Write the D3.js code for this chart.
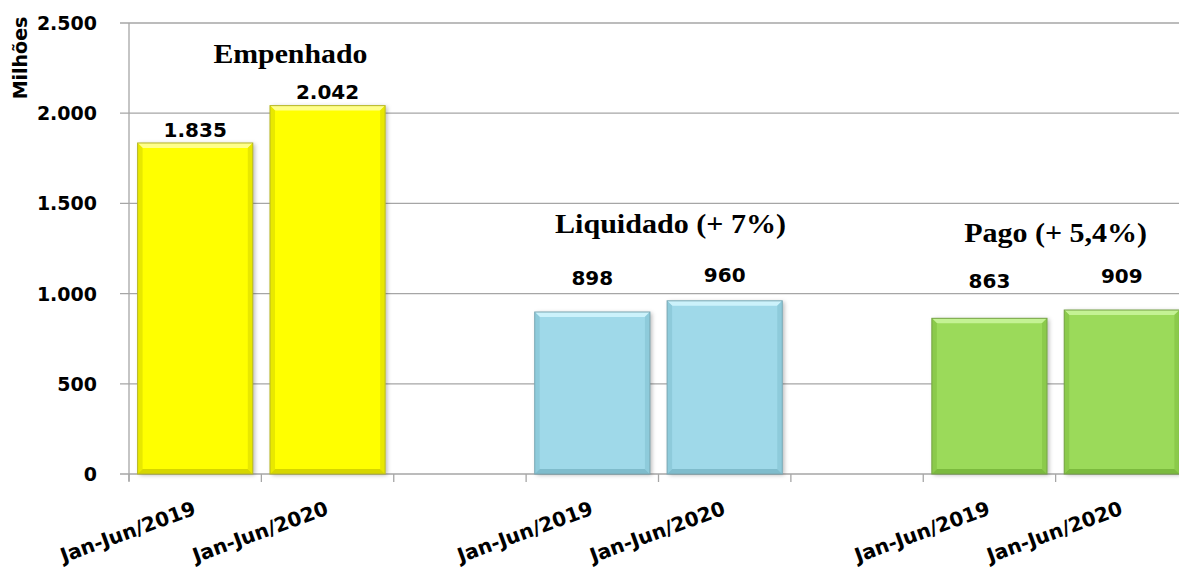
<!DOCTYPE html>
<html>
<head>
<meta charset="utf-8">
<script src="https://cdn.jsdelivr.net/npm/d3@7"></script>
<style>
  html, body { margin: 0; padding: 0; background: #fff; overflow: hidden; }
  svg { display: block; }
</style>
</head>
<body>
<svg id="chart" width="1179" height="568"></svg>
<script>
// ---------- data ----------
const slots = ["E2019", "E2020", "gap1", "L2019", "L2020", "gap2", "P2019", "P2020"];
const slotLabels = ["Jan-Jun/2019", "Jan-Jun/2020", "", "Jan-Jun/2019", "Jan-Jun/2020", "", "Jan-Jun/2019", "Jan-Jun/2020"];
const groupTitles = ["Empenhado", "Liquidado (+ 7%)", "Pago (+ 5,4%)"];
const empenhado = [1835, 2042];
const liquidado = [898, 960];
const pago = [863, 909];
const yTicks = [0, 500, 1000, 1500, 2000, 2500];
const yAxisTitle = "Milhões";

// ---------- setup ----------
const svg = d3.select("#chart");
const mLeft = 129, mRight = 1188, mTop = 23, mBottom = 474;

const x = d3.scaleBand().domain(slots).range([mLeft, mRight]).paddingInner(0.13).paddingOuter(0.065);
const y = d3.scaleLinear().domain([0, 2500]).range([mBottom, mTop]);

const loc = d3.formatLocale({decimal: ",", thousands: ".", grouping: [3], currency: ["", ""]});
const fmt = loc.format(",");

const palettes = [
  {base: "#ffff00", top: "#ffff8a", side: "#e8e800", bottom: "#d6d600", stroke: "#b5b52a"},
  {base: "#9fd9e9", top: "#ccf2fb", side: "#8ecbdb", bottom: "#7fbccc", stroke: "#7aa7b3"},
  {base: "#9bda5a", top: "#c4f294", side: "#8bca4b", bottom: "#7bba3e", stroke: "#76a346"}
];

const bars = [
  {slot: "E2019", v: empenhado[0], g: 0, dy: 6},
  {slot: "E2020", v: empenhado[1], g: 0, dy: 7},
  {slot: "L2019", v: liquidado[0], g: 1, dy: 27},
  {slot: "L2020", v: liquidado[1], g: 1, dy: 19},
  {slot: "P2019", v: pago[0], g: 2, dy: 30},
  {slot: "P2020", v: pago[1], g: 2, dy: 27}
];

// shadow filter
const defs = svg.append("defs");
const f = defs.append("filter").attr("id", "shadow").attr("x", "-10%").attr("y", "-10%").attr("width", "130%").attr("height", "130%");
f.append("feDropShadow").attr("dx", 2).attr("dy", 1).attr("stdDeviation", 2).attr("flood-color", "#000").attr("flood-opacity", 0.28);

// ---------- gridlines ----------
svg.append("g").selectAll("line").data(yTicks).join("line")
  .attr("x1", mLeft - 9).attr("x2", mRight)
  .attr("y1", d => y(d)).attr("y2", d => y(d))
  .attr("stroke", "#a6a6a6").attr("stroke-width", 1.3);

// y axis line
svg.append("line").attr("x1", mLeft).attr("x2", mLeft).attr("y1", y(2500)).attr("y2", y(0) + 7)
  .attr("stroke", "#a6a6a6").attr("stroke-width", 1.3);

// x ticks at band boundaries
const step = x.step();
const boundaries = slots.map((s, i) => mLeft + i * step).concat([mLeft + slots.length * step]);
svg.append("g").selectAll("line").data(boundaries).join("line")
  .attr("x1", d => d).attr("x2", d => d)
  .attr("y1", y(0)).attr("y2", y(0) + 8)
  .attr("stroke", "#a6a6a6").attr("stroke-width", 1.3);

// y tick labels
svg.append("g").selectAll("text").data(yTicks).join("text")
  .attr("x", 97).attr("y", d => y(d) + 7)
  .attr("text-anchor", "end")
  .attr("font-family", "DejaVu Sans").attr("font-weight", "bold").attr("font-size", 19)
  .attr("fill", "#000")
  .text(d => fmt(d));

// y axis title
svg.append("text")
  .attr("transform", "translate(27,58) rotate(-90)")
  .attr("text-anchor", "middle")
  .attr("font-family", "DejaVu Sans").attr("font-weight", "bold").attr("font-size", 19)
  .text(yAxisTitle);

// ---------- bars ----------
const b = 5;
const bg = svg.append("g");
bars.forEach(d => {
  const p = palettes[d.g];
  const x0 = x(d.slot), w = x.bandwidth(), y0 = y(d.v), h = y(0) - y(d.v);
  const g = bg.append("g");
  g.append("rect").attr("x", x0).attr("y", y0).attr("width", w).attr("height", h)
    .attr("fill", p.base).attr("filter", "url(#shadow)");
  g.append("polygon").attr("points", [[x0, y0], [x0 + w, y0], [x0 + w - b, y0 + b], [x0 + b, y0 + b]].join(" "))
    .attr("fill", p.top);
  g.append("polygon").attr("points", [[x0, y0], [x0 + b, y0 + b], [x0 + b, y0 + h - b], [x0, y0 + h]].join(" "))
    .attr("fill", p.side);
  g.append("polygon").attr("points", [[x0 + w, y0], [x0 + w - b, y0 + b], [x0 + w - b, y0 + h - b], [x0 + w, y0 + h]].join(" "))
    .attr("fill", p.side);
  g.append("polygon").attr("points", [[x0, y0 + h], [x0 + b, y0 + h - b], [x0 + w - b, y0 + h - b], [x0 + w, y0 + h]].join(" "))
    .attr("fill", p.bottom);
  g.append("rect").attr("x", x0).attr("y", y0).attr("width", w).attr("height", h)
    .attr("fill", "none").attr("stroke", p.stroke).attr("stroke-width", 1);
});

// value labels
svg.append("g").selectAll("text").data(bars).join("text")
  .attr("x", d => x(d.slot) + x.bandwidth() / 2)
  .attr("y", d => y(d.v) - d.dy)
  .attr("text-anchor", "middle")
  .attr("font-family", "DejaVu Sans").attr("font-weight", "bold").attr("font-size", 20)
  .attr("fill", "#000")
  .text(d => fmt(d.v));

// group titles
const titlePos = [
  {cx: mLeft + 1 * step + 29, y: 63, len: 154},
  {cx: mLeft + 4 * step + 12, y: 233, len: 231},
  {cx: mLeft + 7 * step, y: 242, len: 183}
];
svg.append("g").selectAll("text").data(groupTitles).join("text")
  .attr("x", (d, i) => titlePos[i].cx - titlePos[i].len / 2)
  .attr("y", (d, i) => titlePos[i].y)
  .attr("textLength", (d, i) => titlePos[i].len)
  .attr("lengthAdjust", "spacingAndGlyphs")
  .attr("font-family", "Liberation Serif").attr("font-weight", "bold").attr("font-size", 27)
  .attr("fill", "#000")
  .text(d => d);

// x labels
svg.append("g").selectAll("text").data(slots.filter((s, i) => slotLabels[i] !== "")).join("text")
  .attr("transform", d => `translate(${x(d) + x.bandwidth() / 2 + 2},514) rotate(-20)`)
  .attr("text-anchor", "end")
  .attr("font-family", "DejaVu Sans").attr("font-weight", "bold").attr("font-size", 20)
  .attr("fill", "#000")
  .text(d => slotLabels[slots.indexOf(d)]);
</script>
</body>
</html>
